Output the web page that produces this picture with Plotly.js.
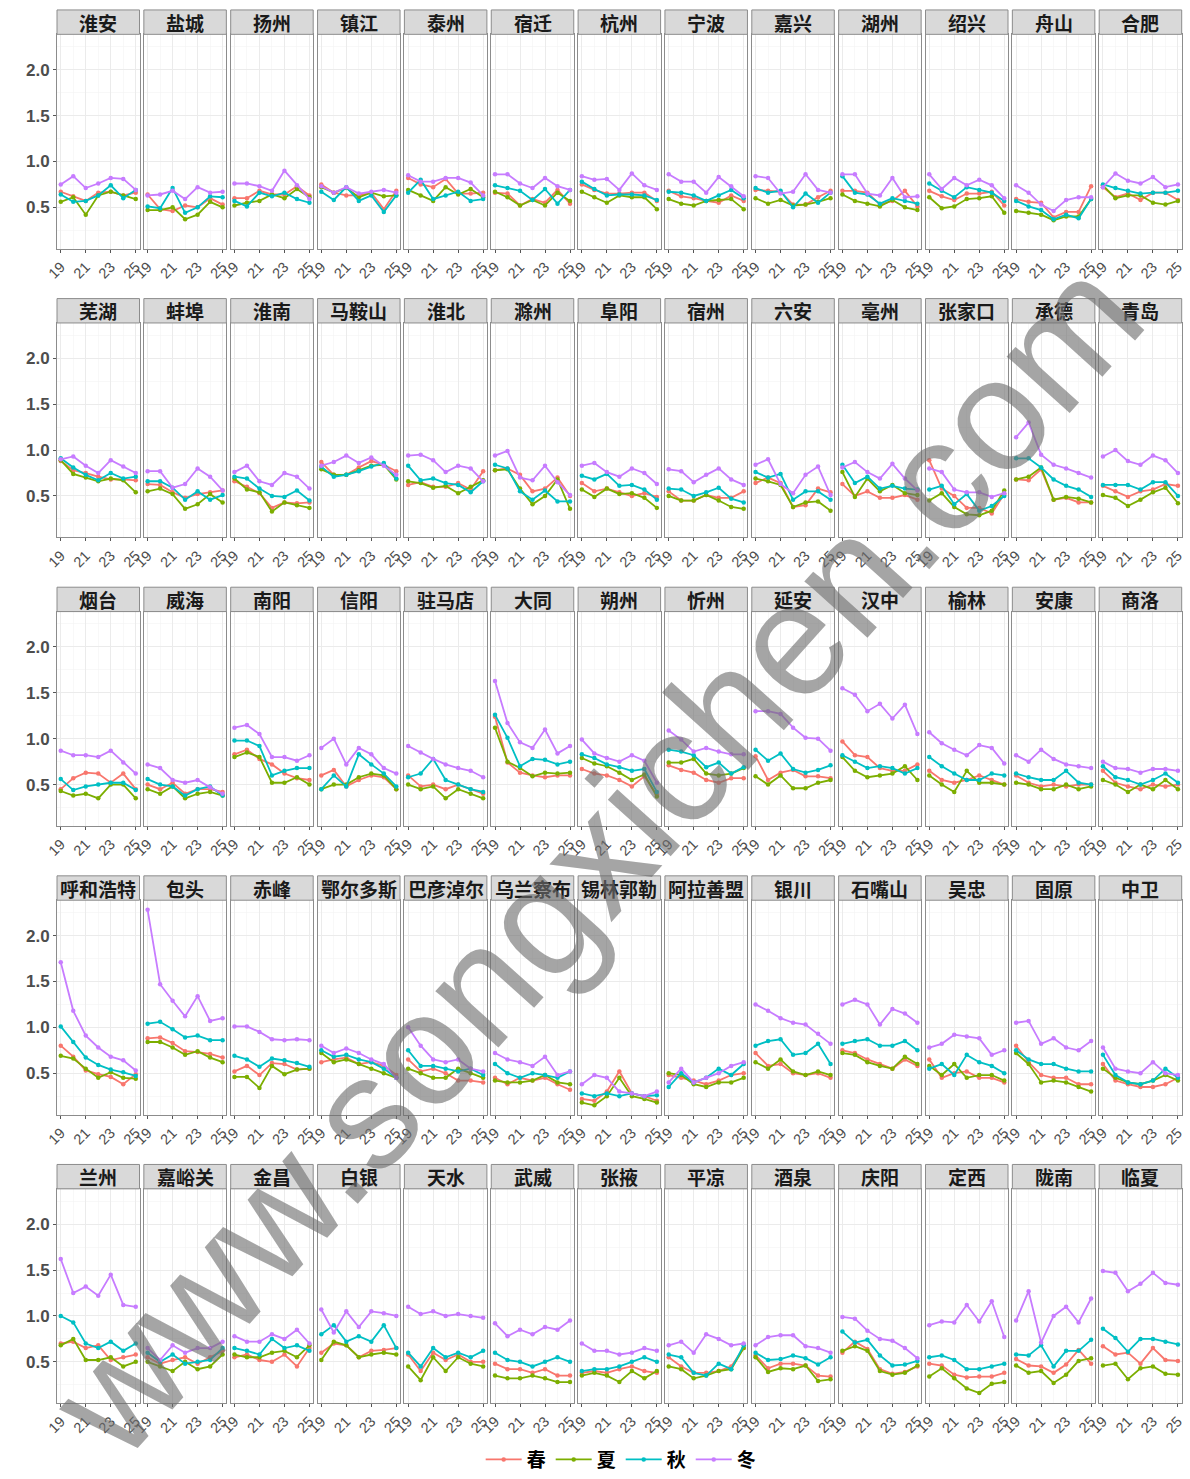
<!DOCTYPE html>
<html><head><meta charset="utf-8">
<script src="https://cdn.plot.ly/plotly-3.0.1.min.js"></script>
<style>html,body{margin:0;padding:0;background:#fff}#chart{width:1190px;height:1479px}</style>
</head><body><div id="chart"></div><script>
const years=[19,20,21,22,23,24,25];
const xTickVals=[19,21,23,25];
const xTickText=['19','21','23','25'];
const yTickVals=[0.5,1.0,1.5,2.0];
const yTickText=['0.5','1.0','1.5','2.0'];
const seasons=['春','夏','秋','冬'];
const seasonColors=['#F8766D','#7CAE00','#00BFC4','#C77CFF'];
const cities=['淮安','盐城','扬州','镇江','泰州','宿迁','杭州','宁波','嘉兴','湖州','绍兴','舟山','合肥',
'芜湖','蚌埠','淮南','马鞍山','淮北','滁州','阜阳','宿州','六安','亳州','张家口','承德','青岛',
'烟台','威海','南阳','信阳','驻马店','大同','朔州','忻州','延安','汉中','榆林','安康','商洛',
'呼和浩特','包头','赤峰','鄂尔多斯','巴彦淖尔','乌兰察布','锡林郭勒','阿拉善盟','银川','石嘴山','吴忠','固原','中卫',
'兰州','嘉峪关','金昌','白银','天水','武威','张掖','平凉','酒泉','庆阳','定西','陇南','临夏'];
const spring=[
[0.67,0.62,0.57,0.66,0.67,0.63,0.66],[0.64,0.48,0.46,0.52,0.50,0.60,0.53],[0.60,0.60,0.68,0.64,0.64,0.73,0.63],[0.75,0.66,0.63,0.63,0.66,0.48,0.68],[0.82,0.75,0.72,0.81,0.65,0.65,0.66],[0.66,0.65,0.52,0.59,0.55,0.69,0.54],[0.75,0.69,0.65,0.65,0.66,0.66,0.57],[0.68,0.62,0.60,0.57,0.55,0.63,0.57],[0.69,0.68,0.67,0.53,0.53,0.61,0.68],[0.68,0.68,0.66,0.53,0.57,0.68,0.51],[0.68,0.62,0.58,0.65,0.65,0.67,0.52],[0.59,0.56,0.55,0.39,0.45,0.45,0.73],[0.72,0.61,0.65,0.58,0.66,0.66,0.58],
[0.88,0.78,0.75,0.71,0.68,0.68,0.67],[0.63,0.62,0.54,0.48,0.52,0.54,0.56],[0.66,0.60,0.53,0.37,0.43,0.42,0.43],[0.87,0.73,0.73,0.81,0.88,0.84,0.77],[0.62,0.65,0.60,0.60,0.64,0.57,0.77],[0.78,0.80,0.73,0.55,0.58,0.70,0.50],[0.64,0.55,0.58,0.54,0.50,0.53,0.49],[0.55,0.45,0.45,0.51,0.48,0.48,0.55],[0.64,0.70,0.64,0.38,0.40,0.58,0.54],[0.63,0.50,0.55,0.48,0.48,0.51,0.46],[0.89,0.58,0.50,0.37,0.37,0.31,0.52],[0.68,0.67,0.79,0.46,0.48,0.43,0.43],[0.61,0.55,0.49,0.55,0.57,0.63,0.61],
[0.45,0.57,0.63,0.62,0.52,0.62,0.45],[0.50,0.45,0.52,0.40,0.45,0.45,0.42],[0.83,0.88,0.78,0.72,0.62,0.57,0.55],[0.60,0.66,0.48,0.55,0.60,0.58,0.45],[0.60,0.48,0.50,0.45,0.50,0.45,0.40],[1.24,0.74,0.63,0.60,0.58,0.60,0.60],[0.67,0.62,0.60,0.55,0.48,0.59,0.39],[0.71,0.66,0.63,0.55,0.52,0.57,0.57],[0.81,0.55,0.63,0.66,0.59,0.59,0.57],[0.97,0.82,0.80,0.68,0.65,0.65,0.72],[0.65,0.55,0.52,0.55,0.60,0.55,0.50],[0.60,0.52,0.48,0.50,0.48,0.50,0.50],[0.65,0.52,0.48,0.45,0.50,0.48,0.50],
[0.80,0.68,0.53,0.49,0.46,0.38,0.49],[0.88,0.89,0.83,0.74,0.73,0.71,0.67],[0.52,0.58,0.48,0.61,0.60,0.54,0.55],[0.62,0.65,0.67,0.60,0.62,0.58,0.48],[0.65,0.52,0.55,0.50,0.42,0.42,0.40],[0.45,0.38,0.45,0.42,0.45,0.38,0.32],[0.22,0.20,0.30,0.52,0.28,0.25,0.20],[0.48,0.45,0.42,0.38,0.42,0.48,0.50],[0.72,0.58,0.60,0.50,0.48,0.50,0.45],[0.75,0.72,0.65,0.60,0.55,0.65,0.58],[0.65,0.45,0.50,0.52,0.45,0.45,0.40],[0.80,0.62,0.48,0.45,0.45,0.38,0.38],[0.60,0.42,0.38,0.35,0.35,0.38,0.45],
[0.70,0.72,0.65,0.68,0.52,0.55,0.58],[0.55,0.48,0.52,0.55,0.48,0.55,0.62],[0.55,0.58,0.52,0.50,0.58,0.45,0.65],[0.60,0.70,0.68,0.55,0.62,0.63,0.65],[0.58,0.40,0.60,0.52,0.58,0.50,0.50],[0.48,0.42,0.42,0.38,0.42,0.35,0.35],[0.38,0.40,0.38,0.42,0.45,0.40,0.38],[0.55,0.45,0.38,0.38,0.40,0.45,0.65],[0.57,0.43,0.48,0.48,0.46,0.35,0.34],[0.60,0.72,0.64,0.42,0.37,0.39,0.45],[0.48,0.46,0.36,0.33,0.34,0.34,0.38],[0.53,0.46,0.45,0.38,0.47,0.63,0.48],[0.67,0.58,0.60,0.48,0.65,0.52,0.51]];
const summer=[
[0.56,0.61,0.42,0.63,0.67,0.63,0.59],[0.47,0.47,0.50,0.37,0.42,0.56,0.50],[0.52,0.55,0.57,0.64,0.60,0.70,0.61],[0.72,0.66,0.71,0.61,0.66,0.62,0.63],[0.69,0.63,0.57,0.72,0.64,0.70,0.61],[0.67,0.61,0.52,0.58,0.52,0.66,0.57],[0.67,0.61,0.55,0.63,0.61,0.61,0.48],[0.59,0.54,0.52,0.57,0.58,0.59,0.48],[0.60,0.54,0.58,0.52,0.53,0.56,0.60],[0.64,0.57,0.54,0.51,0.58,0.50,0.47],[0.61,0.49,0.51,0.59,0.60,0.62,0.44],[0.46,0.44,0.42,0.36,0.40,0.40,0.59],[0.74,0.60,0.63,0.63,0.55,0.53,0.57],
[0.89,0.74,0.70,0.66,0.69,0.67,0.54],[0.55,0.58,0.52,0.36,0.41,0.52,0.43],[0.69,0.57,0.54,0.33,0.43,0.40,0.37],[0.79,0.73,0.73,0.78,0.83,0.84,0.68],[0.66,0.64,0.59,0.61,0.53,0.60,0.67],[0.78,0.79,0.58,0.41,0.50,0.68,0.36],[0.57,0.49,0.58,0.52,0.53,0.48,0.37],[0.50,0.45,0.45,0.51,0.45,0.38,0.36],[0.69,0.66,0.62,0.38,0.43,0.44,0.34],[0.76,0.49,0.69,0.55,0.62,0.53,0.51],[0.45,0.53,0.38,0.30,0.29,0.34,0.56],[0.68,0.71,0.81,0.46,0.49,0.47,0.43],[0.51,0.48,0.39,0.46,0.54,0.59,0.42],
[0.43,0.38,0.40,0.35,0.50,0.50,0.35],[0.45,0.40,0.48,0.35,0.40,0.42,0.38],[0.80,0.85,0.80,0.52,0.52,0.58,0.50],[0.45,0.50,0.50,0.58,0.62,0.60,0.45],[0.50,0.45,0.48,0.35,0.45,0.40,0.35],[1.12,0.75,0.68,0.59,0.63,0.62,0.63],[0.79,0.73,0.70,0.63,0.55,0.61,0.37],[0.74,0.74,0.78,0.62,0.60,0.62,0.68],[0.59,0.50,0.60,0.46,0.46,0.52,0.55],[0.80,0.65,0.58,0.60,0.62,0.70,0.55],[0.60,0.50,0.42,0.65,0.52,0.52,0.50],[0.52,0.50,0.45,0.45,0.50,0.45,0.48],[0.55,0.50,0.42,0.50,0.45,0.55,0.45],
[0.69,0.66,0.55,0.45,0.51,0.45,0.44],[0.84,0.84,0.78,0.70,0.74,0.67,0.62],[0.46,0.46,0.34,0.58,0.49,0.54,0.55],[0.72,0.62,0.65,0.60,0.55,0.50,0.45],[0.55,0.50,0.45,0.45,0.55,0.50,0.45],[0.42,0.40,0.40,0.42,0.48,0.40,0.38],[0.18,0.15,0.25,0.45,0.25,0.22,0.18],[0.50,0.48,0.38,0.35,0.40,0.40,0.45],[0.62,0.55,0.65,0.52,0.48,0.52,0.48],[0.72,0.70,0.62,0.58,0.55,0.68,0.60],[0.58,0.48,0.60,0.45,0.48,0.48,0.42],[0.72,0.60,0.40,0.42,0.40,0.35,0.30],[0.55,0.45,0.40,0.38,0.42,0.48,0.42],
[0.68,0.75,0.52,0.52,0.55,0.45,0.50],[0.50,0.45,0.40,0.50,0.42,0.45,0.58],[0.58,0.55,0.55,0.60,0.62,0.55,0.68],[0.52,0.72,0.68,0.55,0.58,0.60,0.58],[0.45,0.30,0.55,0.40,0.55,0.48,0.45],[0.35,0.32,0.32,0.35,0.32,0.28,0.28],[0.35,0.38,0.35,0.28,0.40,0.32,0.40],[0.45,0.42,0.32,0.35,0.40,0.42,0.65],[0.55,0.39,0.43,0.42,0.46,0.29,0.31],[0.62,0.67,0.62,0.40,0.36,0.38,0.46],[0.34,0.43,0.32,0.21,0.16,0.26,0.28],[0.46,0.38,0.40,0.27,0.36,0.51,0.54],[0.46,0.48,0.31,0.43,0.45,0.37,0.36]];
const autumn=[
[0.64,0.56,0.57,0.63,0.74,0.60,0.69],[0.51,0.49,0.71,0.44,0.50,0.62,0.61],[0.57,0.51,0.66,0.62,0.66,0.59,0.55],[0.67,0.58,0.72,0.57,0.63,0.45,0.63],[0.66,0.80,0.59,0.63,0.67,0.57,0.59],[0.74,0.71,0.68,0.58,0.70,0.54,0.69],[0.78,0.70,0.63,0.64,0.64,0.63,0.58],[0.67,0.66,0.63,0.57,0.63,0.69,0.60],[0.71,0.66,0.68,0.50,0.65,0.55,0.66],[0.84,0.66,0.64,0.54,0.60,0.57,0.54],[0.76,0.68,0.61,0.72,0.69,0.66,0.57],[0.57,0.51,0.47,0.37,0.42,0.38,0.59],[0.75,0.71,0.68,0.65,0.66,0.66,0.68],
[0.91,0.81,0.73,0.67,0.75,0.69,0.71],[0.66,0.66,0.59,0.46,0.55,0.46,0.51],[0.71,0.69,0.58,0.50,0.49,0.56,0.45],[0.82,0.71,0.73,0.77,0.82,0.86,0.69],[0.83,0.67,0.69,0.64,0.62,0.54,0.66],[0.84,0.80,0.55,0.46,0.56,0.44,0.44],[0.72,0.68,0.74,0.61,0.62,0.57,0.46],[0.58,0.57,0.50,0.54,0.59,0.47,0.43],[0.76,0.70,0.74,0.46,0.55,0.55,0.46],[0.84,0.64,0.71,0.58,0.61,0.58,0.57],[0.57,0.61,0.41,0.52,0.34,0.39,0.50],[0.91,0.91,0.81,0.68,0.61,0.57,0.49],[0.62,0.62,0.62,0.57,0.65,0.65,0.50],
[0.56,0.44,0.48,0.50,0.52,0.52,0.44],[0.56,0.50,0.48,0.38,0.45,0.48,0.38],[0.98,0.98,0.92,0.60,0.65,0.68,0.68],[0.45,0.60,0.48,0.83,0.72,0.62,0.48],[0.58,0.62,0.78,0.55,0.50,0.45,0.42],[1.26,1.01,0.70,0.78,0.77,0.72,0.75],[0.83,0.79,0.72,0.69,0.65,0.67,0.42],[0.88,0.86,0.82,0.69,0.74,0.62,0.69],[0.88,0.76,0.84,0.67,0.63,0.66,0.71],[0.82,0.75,0.68,0.70,0.68,0.62,0.68],[0.80,0.70,0.62,0.55,0.55,0.62,0.60],[0.62,0.58,0.55,0.55,0.65,0.52,0.50],[0.70,0.58,0.55,0.50,0.55,0.62,0.52],
[1.01,0.84,0.67,0.59,0.54,0.51,0.47],[1.04,1.06,0.98,0.89,0.91,0.86,0.86],[0.69,0.65,0.57,0.66,0.64,0.61,0.57],[0.75,0.68,0.70,0.65,0.62,0.55,0.45],[0.75,0.58,0.58,0.55,0.52,0.55,0.48],[0.60,0.50,0.45,0.50,0.48,0.45,0.52],[0.28,0.25,0.28,0.25,0.28,0.25,0.26],[0.35,0.50,0.40,0.45,0.55,0.48,0.60],[0.80,0.85,0.87,0.70,0.72,0.82,0.60],[0.82,0.85,0.87,0.80,0.80,0.85,0.75],[0.55,0.60,0.48,0.70,0.62,0.58,0.50],[0.75,0.65,0.60,0.60,0.55,0.52,0.52],[0.70,0.48,0.40,0.38,0.42,0.55,0.45],
[1.00,0.93,0.70,0.65,0.72,0.62,0.70],[0.60,0.50,0.58,0.48,0.50,0.52,0.65],[0.65,0.62,0.58,0.75,0.65,0.68,0.62],[0.80,0.90,0.72,0.78,0.72,0.90,0.65],[0.60,0.45,0.65,0.55,0.60,0.55,0.62],[0.60,0.52,0.50,0.45,0.50,0.55,0.50],[0.40,0.42,0.42,0.45,0.50,0.55,0.50],[0.58,0.55,0.38,0.35,0.48,0.42,0.68],[0.60,0.52,0.53,0.57,0.54,0.47,0.55],[0.83,0.71,0.74,0.57,0.46,0.47,0.51],[0.55,0.57,0.52,0.42,0.42,0.45,0.48],[0.58,0.57,0.68,0.45,0.62,0.62,0.74],[0.86,0.76,0.61,0.75,0.75,0.72,0.69]];
const winter=[
[0.75,0.84,0.71,0.76,0.82,0.81,0.69],[0.63,0.64,0.68,0.59,0.72,0.66,0.67],[0.76,0.76,0.73,0.68,0.90,0.74,0.59],[0.73,0.66,0.72,0.65,0.67,0.69,0.66],[0.85,0.78,0.78,0.82,0.82,0.77,0.63],[0.86,0.86,0.76,0.71,0.82,0.73,0.69],[0.84,0.80,0.81,0.69,0.87,0.74,0.69],[0.86,0.78,0.78,0.66,0.83,0.73,0.62],[0.84,0.82,0.65,0.67,0.86,0.69,0.66],[0.86,0.86,0.65,0.63,0.82,0.61,0.62],[0.86,0.70,0.82,0.74,0.80,0.74,0.60],[0.74,0.66,0.53,0.46,0.58,0.61,0.61],[0.72,0.87,0.79,0.76,0.83,0.72,0.75],
[0.90,0.93,0.83,0.75,0.89,0.82,0.75],[0.77,0.77,0.59,0.63,0.80,0.71,0.56],[0.76,0.83,0.66,0.62,0.75,0.71,0.58],[0.83,0.87,0.94,0.86,0.92,0.83,0.73],[0.94,0.95,0.89,0.76,0.83,0.80,0.66],[0.94,0.99,0.70,0.67,0.83,0.65,0.51],[0.83,0.86,0.76,0.71,0.80,0.75,0.63],[0.79,0.77,0.65,0.73,0.80,0.68,0.62],[0.84,0.90,0.63,0.53,0.73,0.82,0.51],[0.81,0.87,0.76,0.69,0.85,0.69,0.56],[0.80,0.76,0.57,0.54,0.54,0.49,0.53],[1.14,1.30,0.95,0.84,0.80,0.75,0.70],[0.93,1.00,0.88,0.84,0.94,0.89,0.75],
[0.87,0.82,0.82,0.80,0.87,0.74,0.62],[0.72,0.68,0.55,0.52,0.55,0.47,0.40],[1.12,1.15,1.05,0.80,0.80,0.76,0.82],[0.90,1.00,0.72,0.90,0.83,0.68,0.62],[0.92,0.85,0.78,0.72,0.68,0.65,0.58],[1.63,1.17,0.96,0.90,1.10,0.84,0.92],[0.99,0.84,0.79,0.75,0.82,0.76,0.52],[1.09,0.99,0.86,0.90,0.86,0.83,0.83],[1.30,1.30,1.27,1.12,1.01,1.00,0.87],[1.55,1.48,1.30,1.38,1.22,1.37,1.05],[1.07,0.95,0.88,0.82,0.93,0.90,0.73],[0.82,0.75,0.88,0.78,0.72,0.70,0.68],[0.75,0.68,0.67,0.63,0.67,0.67,0.65],
[1.71,1.18,0.91,0.78,0.68,0.64,0.53],[2.28,1.47,1.29,1.12,1.34,1.07,1.10],[1.01,1.01,0.95,0.87,0.86,0.87,0.86],[0.80,0.72,0.77,0.72,0.65,0.60,0.45],[1.00,0.80,0.65,0.62,0.65,0.55,0.52],[0.72,0.65,0.62,0.58,0.68,0.48,0.52],[0.38,0.48,0.45,0.30,0.28,0.25,0.30],[0.40,0.55,0.40,0.45,0.50,0.58,0.62],[1.25,1.18,1.10,1.05,1.03,0.93,0.82],[1.25,1.30,1.25,1.03,1.20,1.15,1.05],[0.78,0.82,0.92,0.90,0.88,0.70,0.75],[1.05,1.07,0.82,0.88,0.78,0.75,0.85],[0.78,0.55,0.52,0.50,0.62,0.50,0.48],
[1.62,1.25,1.32,1.22,1.45,1.12,1.10],[0.65,0.52,0.68,0.60,0.65,0.65,0.72],[0.78,0.72,0.72,0.80,0.75,0.85,0.70],[1.07,0.82,1.05,0.88,1.05,1.03,1.00],[1.10,1.02,1.05,1.00,1.02,1.00,0.98],[0.92,0.78,0.85,0.80,0.88,0.85,0.95],[0.70,0.62,0.62,0.58,0.60,0.65,0.62],[0.68,0.72,0.60,0.80,0.75,0.68,0.70],[0.68,0.77,0.79,0.79,0.67,0.65,0.60],[0.99,0.97,0.84,0.75,0.73,0.65,0.54],[0.90,0.94,0.93,1.12,0.94,1.16,0.77],[0.95,1.27,0.71,1.00,1.10,0.93,1.19],[1.49,1.47,1.27,1.35,1.47,1.36,1.34]];
const watermark='www.songxichen.com';

const seriesData=[spring,summer,autumn,winter];
const W=1190,H=1479,NCOL=13;
const colStart=57,colStep=86.85,panelW=82.5,rowStep=290,stripTop=10,stripH=24.5,plotBottom=250;
const traces=[],layout={width:W,height:H,margin:{l:0,r:0,t:0,b:0},autosize:false,
 paper_bgcolor:'#fff',plot_bgcolor:'#fff',showlegend:true,shapes:[],annotations:[],
 legend:{orientation:'h',x:0.522,xanchor:'center',y:-0.0045,yanchor:'bottom',
  font:{family:'Noto Sans CJK SC',size:19,color:'#000',weight:'bold'},itemwidth:36,tracegroupgap:0}};
const gridMajor='#EBEBEB',gridMinor='#F4F4F4',border='#8C8C8C';
cities.forEach((city,i)=>{
 const r=Math.floor(i/NCOL),c=i%NCOL,id=i+1,sfx=id===1?'':String(id);
 const x0=colStart+colStep*c,x1=x0+panelW;
 const yTop=stripTop+stripH+rowStep*r,yBot=plotBottom+rowStep*r;
 layout['xaxis'+sfx]={domain:[x0/W,x1/W],anchor:'y'+sfx,range:[18.7,25.3],tickmode:'array',tickvals:xTickVals,ticktext:xTickText,
  tickangle:-45,tickfont:{family:'Liberation Sans, Arial',size:14.5,color:'#4D4D4D'},showgrid:true,gridcolor:gridMajor,gridwidth:1,
  minor:{tickmode:'array',tickvals:[20,22,24],showgrid:true,gridcolor:gridMinor,gridwidth:0.6},
  showline:true,mirror:true,linecolor:border,linewidth:1,ticks:'outside',ticklen:3,tickcolor:'#555',zeroline:false,fixedrange:true};
 layout['yaxis'+sfx]={domain:[1-yBot/H,1-yTop/H],anchor:'x'+sfx,range:[0.048,2.385],tickmode:'array',tickvals:yTickVals,ticktext:yTickText,
  showticklabels:c===0,tickfont:{family:'Liberation Sans, Arial',size:17,color:'#4D4D4D',weight:'bold'},
  showgrid:true,gridcolor:gridMajor,gridwidth:1,minor:{tickmode:'array',tickvals:[0.25,0.75,1.25,1.75,2.25],showgrid:true,gridcolor:gridMinor,gridwidth:0.6},
  showline:true,mirror:true,linecolor:border,linewidth:1,ticks:c===0?'outside':'',ticklen:3,tickcolor:'#555',zeroline:false,fixedrange:true};
 layout.shapes.push({type:'rect',xref:'paper',yref:'paper',x0:x0/W,x1:x1/W,y0:1-(stripTop+stripH+rowStep*r)/H,y1:1-(stripTop+rowStep*r)/H,
  fillcolor:'#D9D9D9',line:{color:border,width:1}});
 layout.annotations.push({text:city,xref:'paper',yref:'paper',x:(x0+x1)/2/W,y:1-(stripTop+stripH/2+rowStep*r)/H,xanchor:'center',yanchor:'middle',
  showarrow:false,font:{family:'Noto Sans CJK SC',size:19,color:'#1A1A1A',weight:'bold'}});
 seasons.forEach((s,k)=>{
  traces.push({type:'scatter',mode:'lines+markers',x:years,y:seriesData[k][i],xaxis:'x'+sfx,yaxis:'y'+sfx,name:s,legendgroup:s,
   showlegend:i===0,line:{color:seasonColors[k],width:1.8},marker:{color:seasonColors[k],size:4.5},hoverinfo:'skip'});
 });
});
layout.annotations.push({text:watermark,xref:'paper',yref:'paper',x:595/W,y:1-862/H,xanchor:'center',yanchor:'middle',showarrow:false,
 textangle:-48,font:{family:'Liberation Sans, Arial',size:160,color:'rgba(110,110,110,0.62)'}});
Plotly.newPlot('chart',traces,layout,{staticPlot:true,displayModeBar:false});
</script></body></html>
